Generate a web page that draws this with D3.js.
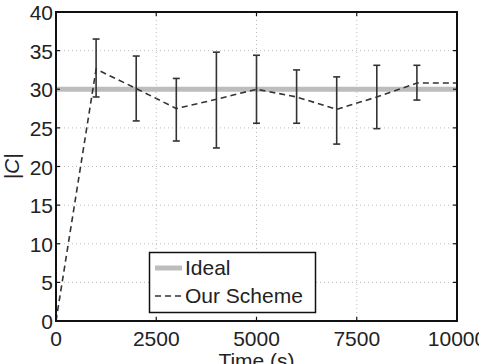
<!DOCTYPE html>
<html><head><meta charset="utf-8">
<script src="https://cdn.jsdelivr.net/npm/d3@7"></script>
<style>body{margin:0;background:#fff}svg{display:block}text{font-family:"Liberation Sans",Arial,sans-serif;fill:#222}</style>
</head><body><svg id="c" width="479" height="364"></svg>
<script>
const times = [0,1000,2000,3000,4000,5000,6000,7000,8000,9000,10000];
const means = [0,32.6,30.1,27.5,28.7,30.0,29.0,27.4,29.0,30.8,30.8];
const errTimes = [1000,2000,3000,4000,5000,6000,7000,8000,9000];
const errLow  = [29.0,25.9,23.3,22.4,25.6,25.6,22.9,24.9,28.6];
const errHigh = [36.5,34.3,31.4,34.8,34.4,32.5,31.6,33.1,33.1];
const idealValue = 30;
const xTicks = [0,2500,5000,7500,10000];
const yTicks = [0,5,10,15,20,25,30,35,40];
const legendLabels = ["Ideal","Our Scheme"];

const svg = d3.select("#c");
const L=56,R=457,T=12,B=321;
const x = d3.scaleLinear().domain([0,10000]).range([L,R]);
const y = d3.scaleLinear().domain([0,40]).range([B,T]);
const fs = 21;

// grid
const g = svg.append("g");
g.selectAll(".gy").data(yTicks.slice(1,-1)).enter().append("line")
  .attr("x1",L).attr("x2",R).attr("y1",d=>y(d)).attr("y2",d=>y(d))
  .attr("stroke","#bbb").attr("stroke-width",1).attr("stroke-dasharray","1,3");
g.selectAll(".gx").data(xTicks.slice(1,-1)).enter().append("line")
  .attr("y1",T).attr("y2",B).attr("x1",d=>x(d)).attr("x2",d=>x(d))
  .attr("stroke","#bbb").attr("stroke-width",1).attr("stroke-dasharray","1,3");

// ideal
svg.append("line").attr("x1",x(0)).attr("x2",x(10000)).attr("y1",y(idealValue)).attr("y2",y(idealValue))
  .attr("stroke","#bdbdbd").attr("stroke-width",5);

// error bars
const eb = svg.append("g").attr("stroke","#333").attr("stroke-width",1.6);
errTimes.forEach((t,i)=>{
  eb.append("line").attr("x1",x(t)).attr("x2",x(t)).attr("y1",y(errLow[i])).attr("y2",y(errHigh[i]));
  [errLow[i],errHigh[i]].forEach(v=>eb.append("line").attr("x1",x(t)-3.5).attr("x2",x(t)+3.5).attr("y1",y(v)).attr("y2",y(v)));
});

// dashed series
svg.append("path").datum(times.map((t,i)=>[t,means[i]]))
  .attr("d",d3.line().x(d=>x(d[0])).y(d=>y(d[1])))
  .attr("fill","none").attr("stroke","#333").attr("stroke-width",1.6).attr("stroke-dasharray","6,4");

// axes box
svg.append("rect").attr("x",L).attr("y",T).attr("width",R-L).attr("height",B-T)
  .attr("fill","none").attr("stroke","#111").attr("stroke-width",2);

// ticks inward
const tk = svg.append("g").attr("stroke","#111").attr("stroke-width",1.2);
yTicks.forEach(v=>{
  tk.append("line").attr("x1",L).attr("x2",L+4).attr("y1",y(v)).attr("y2",y(v));
  tk.append("line").attr("x1",R).attr("x2",R-4).attr("y1",y(v)).attr("y2",y(v));
});
xTicks.forEach(v=>{
  tk.append("line").attr("y1",B).attr("y2",B-4).attr("x1",x(v)).attr("x2",x(v));
  tk.append("line").attr("y1",T).attr("y2",T+4).attr("x1",x(v)).attr("x2",x(v));
});

// tick labels
svg.selectAll(".yl").data(yTicks).enter().append("text")
  .attr("x",L-3).attr("y",d=>y(d)+8).attr("text-anchor","end").attr("font-size",fs).text(d=>d);
svg.selectAll(".xl").data(xTicks).enter().append("text")
  .attr("x",d=>x(d)).attr("y",B+25).attr("text-anchor","middle").attr("font-size",fs).text(d=>d);

// axis titles
svg.append("text").attr("x",(L+R)/2).attr("y",368).attr("text-anchor","middle").attr("font-size",fs).text("Time (s)");
svg.append("text").attr("transform",`translate(19,${(T+B)/2}) rotate(-90)`).attr("text-anchor","middle")
  .attr("font-size",fs).text("|C|").attr("font-style","italic");

// legend
const lg = svg.append("g");
lg.append("rect").attr("x",149.5).attr("y",252.5).attr("width",166).attr("height",60)
  .attr("fill","#fff").attr("stroke","#111").attr("stroke-width",1.5);
lg.append("line").attr("x1",155).attr("x2",182).attr("y1",268).attr("y2",268).attr("stroke","#bdbdbd").attr("stroke-width",5);
lg.append("line").attr("x1",155).attr("x2",182).attr("y1",296).attr("y2",296).attr("stroke","#333").attr("stroke-width",1.6).attr("stroke-dasharray","6,4");
lg.selectAll(".lt").data(legendLabels).enter().append("text")
  .attr("x",185).attr("y",(d,i)=>275+i*28).attr("font-size",fs).text(d=>d);
</script></body></html>
